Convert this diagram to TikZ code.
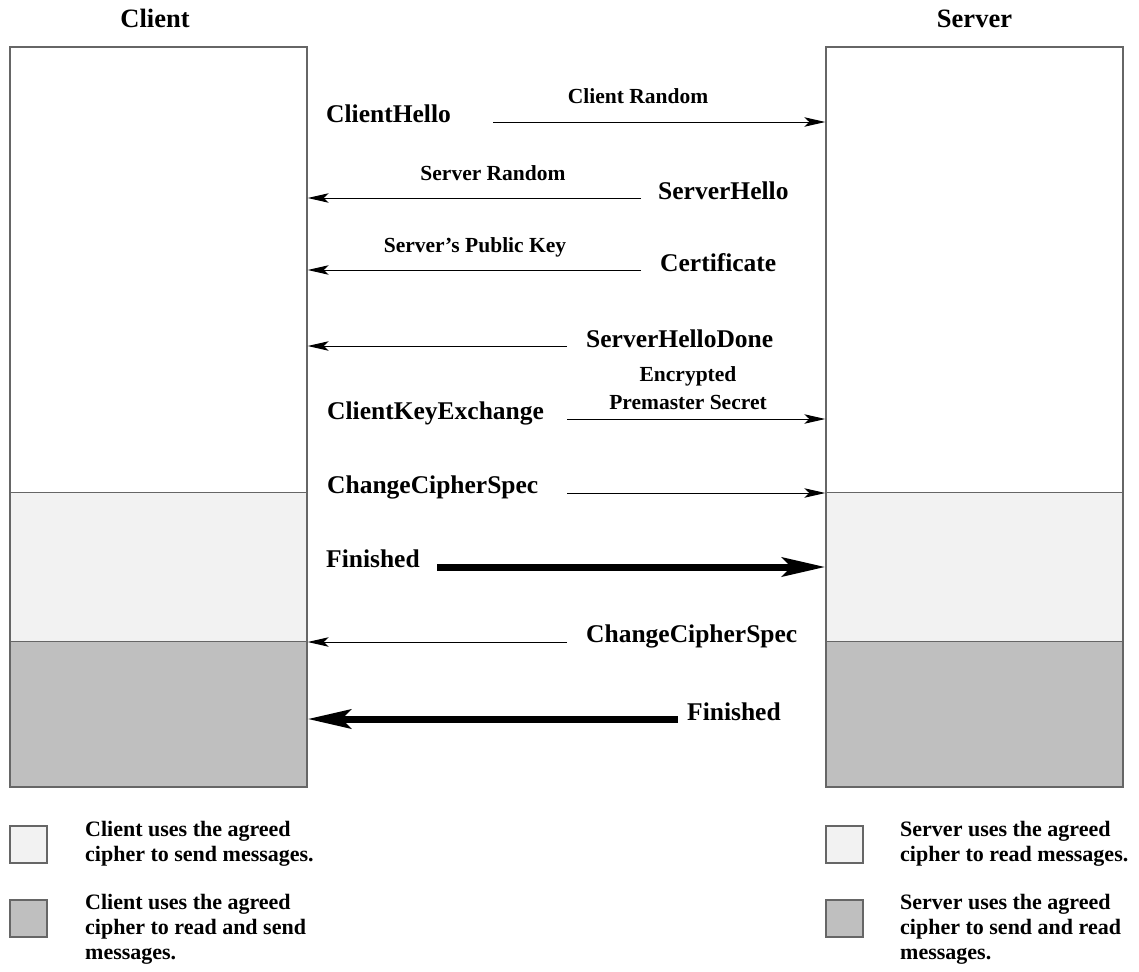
\documentclass[tikz,border=0pt]{standalone}
\usepackage{fontspec}
\setmainfont{Liberation Serif}
\usetikzlibrary{arrows.meta}
\definecolor{lightc}{gray}{0.95}
\definecolor{darkc}{gray}{0.75}
\definecolor{edgec}{gray}{0.4}
\begin{document}
\begin{tikzpicture}[x=1pt,y=-1pt,
  msg/.style={font=\fontsize{25.5}{30}\selectfont\bfseries, inner sep=0, anchor=base west},
  lbl/.style={font=\fontsize{21.5}{28}\selectfont\bfseries, inner sep=0, align=center},
  ttl/.style={font=\fontsize{26.5}{30}\selectfont\bfseries, inner sep=0, anchor=base},
  leg/.style={font=\fontsize{22}{25}\selectfont\bfseries, inner sep=0, anchor=north west, align=left},
  thinarr/.style={-{Stealth[length=21pt,width=9.5pt,inset=5pt]}, line width=1pt},
  thickarr/.style={-{Stealth[length=43pt,width=19pt,inset=9pt]}, line width=7pt},
  lifeline/.style={draw=edgec, line width=1.4pt, minimum width=297pt, minimum height=740pt, inner sep=0},
  divider/.style={draw=edgec, line width=0.8pt},
  legbox/.style={draw=edgec, line width=1.2pt, minimum width=37pt, minimum height=37pt, inner sep=0},
]
\useasboundingbox (0,0) rectangle (1139,971);
% lifeline fills
\fill[lightc] (10,492) rectangle (307,641);
\fill[darkc] (10,641) rectangle (307,787);
\fill[lightc] (826,492) rectangle (1123,641);
\fill[darkc] (826,641) rectangle (1123,787);
\draw[divider] (10,492) -- (307,492) (10,641) -- (307,641);
\draw[divider] (826,492) -- (1123,492) (826,641) -- (1123,641);
\node[lifeline] (client) at (158.5,417) {};
\node[lifeline] (server) at (974.5,417) {};
% titles
\node[ttl] (tclient) at (155,28) {Client};
\node[ttl] (tserver) at (974.5,28) {Server};
% messages
\node[msg] (m1) at (326,122) {ClientHello};
\coordinate (a1) at (493,122);
\draw[thinarr] (a1) -- (a1 -| server.west);
\node[lbl, anchor=base] (l1) at (638,103) {Client Random};

\node[msg] (m2) at (658,199) {ServerHello};
\coordinate (a2) at (641,198);
\draw[thinarr] (a2) -- (a2 -| client.east);
\node[lbl, anchor=base] (l2) at (493,180) {Server Random};

\node[msg] (m3) at (660,271) {Certificate};
\coordinate (a3) at (641,270);
\draw[thinarr] (a3) -- (a3 -| client.east);
\node[lbl, anchor=base] (l3) at (475,252) {Server’s Public Key};

\node[msg] (m4) at (586,347) {ServerHelloDone};
\coordinate (a4) at (567,346);
\draw[thinarr] (a4) -- (a4 -| client.east);

\node[msg] (m5) at (327,419) {ClientKeyExchange};
\coordinate (a5) at (567,419);
\draw[thinarr] (a5) -- (a5 -| server.west);
\node[lbl, anchor=north] (l5) at (688,366) {Encrypted\\Premaster Secret};

\node[msg] (m6) at (327,493) {ChangeCipherSpec};
\coordinate (a6) at (567,493);
\draw[thinarr] (a6) -- (a6 -| server.west);

\node[msg] (m7) at (326,567) {Finished};
\coordinate (a7) at (437,567);
\draw[thickarr] (a7) -- (a7 -| server.west);

\node[msg] (m8) at (586,642) {ChangeCipherSpec};
\coordinate (a8) at (567,642);
\draw[thinarr] (a8) -- (a8 -| client.east);

\node[msg] (m9) at (687,720) {Finished};
\coordinate (a9) at (678,719);
\draw[thickarr] (a9) -- (a9 -| client.east);

% legend
\node[legbox, fill=lightc] (lb1) at (28.5,844.5) {};
\node[legbox, fill=darkc] (lb2) at (28.5,918.5) {};
\node[legbox, fill=lightc] (lb3) at (844.5,844.5) {};
\node[legbox, fill=darkc] (lb4) at (844.5,918.5) {};
\node[leg] (lt1) at (85,821) {Client uses the agreed\\cipher to send messages.};
\node[leg] (lt2) at (85,894) {Client uses the agreed\\cipher to read and send\\messages.};
\node[leg] (lt3) at (900,821) {Server uses the agreed\\cipher to read messages.};
\node[leg] (lt4) at (900,894) {Server uses the agreed\\cipher to send and read\\messages.};
\end{tikzpicture}
\end{document}
